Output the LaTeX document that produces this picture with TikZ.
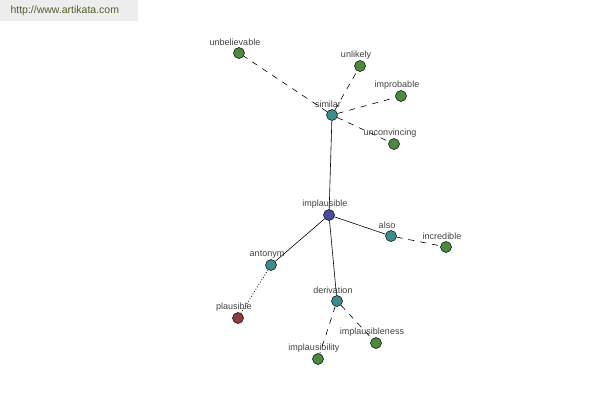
\documentclass[tikz,border=0pt]{standalone}
\usepackage{fontspec}
\setmainfont{Liberation Sans}
\usetikzlibrary{arrows.meta}
\definecolor{leaf}{HTML}{4E8A3E}
\definecolor{mid}{HTML}{3E8C8C}
\definecolor{root}{HTML}{4A4A9E}
\definecolor{anti}{HTML}{8E3E3E}
\definecolor{urltext}{HTML}{4F5F2F}

\begin{document}
\begin{tikzpicture}[x=1pt,y=-1pt,
  word/.style={circle,draw=black,line width=0.5pt,minimum size=11pt,inner sep=0pt},
  lbl/.style={font=\fontsize{9}{10}\selectfont,text=black!75,inner sep=1pt,xshift=-4pt},
  syn/.style={dashed,dash pattern=on 6pt off 6pt,line width=0.6pt},
  ant/.style={dotted,line width=0.8pt}]
\useasboundingbox (0,0) rectangle (600,400);
\fill[black!7] (0,0) rectangle (138,21);
\node[text=urltext,font=\fontsize{10.5}{12}\selectfont,anchor=west] (url) at (7,11) {http://www.artikata.com};
% centre
\node[word,fill=root,label={[lbl]above:implausible}] (impl) at (329,215) {};
\node[word,fill=mid,label={[lbl]above:similar}] (sim) at (332,115) {};
\node[word,fill=mid,label={[lbl]above:also}] (also) at (391,236) {};
\node[word,fill=mid,label={[lbl]above:antonym}] (anto) at (271,265) {};
\node[word,fill=mid,label={[lbl]above:derivation}] (deri) at (337,301) {};
% leaves
\node[word,fill=leaf,label={[lbl]above:unbelievable}] (unbe) at (239,53) {};
\node[word,fill=leaf,label={[lbl]above:unlikely}] (unli) at (360,66) {};
\node[word,fill=leaf,label={[lbl]above:improbable}] (impr) at (401,96) {};
\node[word,fill=leaf,label={[lbl]above:unconvincing}] (unco) at (394,144) {};
\node[word,fill=leaf,label={[lbl]above:incredible}] (incr) at (446,247) {};
\node[word,fill=anti,label={[lbl]above:plausible}] (plau) at (238,318) {};
\node[word,fill=leaf,label={[lbl]above:implausibility}] (ilty) at (318,359) {};
\node[word,fill=leaf,label={[lbl]above:implausibleness}] (ines) at (376,343) {};
% edges
\draw[line width=0.6pt] (impl) -- (sim);
\draw[line width=0.6pt] (impl) -- (also);
\draw[line width=0.6pt] (impl) -- (anto);
\draw[line width=0.6pt] (impl) -- (deri);
\foreach \t in {unbe,unli,impr,unco} \draw[syn] (sim) -- (\t);
\draw[syn] (also) -- (incr);
\draw[syn] (deri) -- (ilty);
\draw[syn] (deri) -- (ines);
\draw[ant] (anto) -- (plau);
\end{tikzpicture}
\end{document}
